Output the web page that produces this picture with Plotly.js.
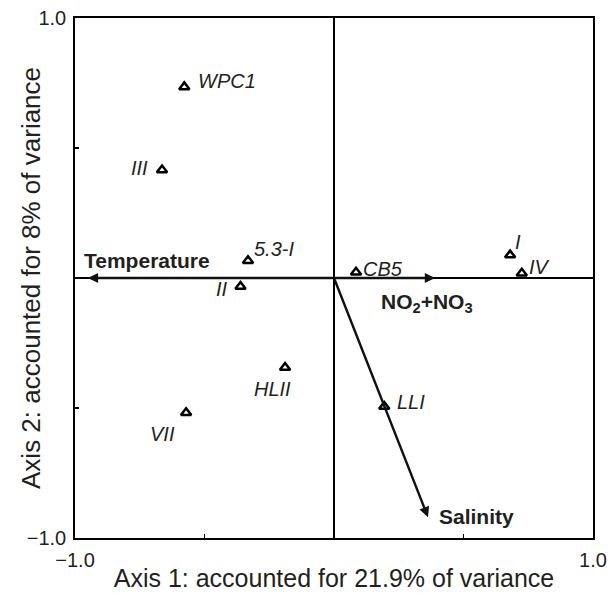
<!DOCTYPE html>
<html>
<head>
<meta charset="utf-8">
<script src="https://cdn.plot.ly/plotly-3.0.1.min.js"></script>
<style>html,body{margin:0;padding:0;background:#fff;}#chart{width:610px;height:593px;}</style>
</head>
<body>
<div id="chart"></div>
<script>
// Sample scores (axis 1, axis 2)
const sampleNames = ["WPC1", "III", "5.3-I", "II", "CB5", "I", "IV", "HLII", "VII", "LLI"];
const sampleX = [-0.578, -0.664, -0.332, -0.361, 0.085, 0.680, 0.725, -0.189, -0.571, 0.194];
const sampleY = [0.735, 0.415, 0.066, -0.033, 0.022, 0.088, 0.018, -0.344, -0.518, -0.494];

// Environmental vectors (arrow tips)
const varNames = ["Temperature", "NO<sub>2</sub>+NO<sub>3</sub>", "Salinity"];
const varX = [-0.95, 0.39, 0.363];
const varY = [0.0, 0.0, -0.92];

const xTickVals = [-1, -0.5, 0, 0.5, 1];
const xTickText = ["\u22121.0", "", "", "", "1.0"];
const yTickVals = [-1, -0.5, 0, 0.5, 1];
const yTickText = ["\u22121.0", "", "", "", "1.0"];

const xTitle = "Axis 1: accounted for 21.9% of variance";
const yTitle = "Axis 2: accounted for 8% of variance";

// label placement (style)
const sampleLabelStyle = [
  {xa: "left", xs: 12, ys: 6},
  {xa: "right", xs: -12, ys: 2},
  {xa: "left", xs: 4, ys: 12},
  {xa: "right", xs: -11, ys: -2},
  {xa: "left", xs: 5, ys: 3},
  {xa: "left", xs: 3, ys: 13},
  {xa: "left", xs: 5, ys: 6},
  {xa: "right", xs: 8, ys: -22},
  {xa: "right", xs: -9, ys: -21},
  {xa: "left", xs: 11, ys: 4}
];
const varLabelStyle = [
  {xa: "left", xs: -6, ys: 18},
  {xa: "center", xs: -8, ys: -25},
  {xa: "left", xs: 9, ys: 1}
];

const textColor = "#231f20";
const font = "Liberation Sans, Arial, Helvetica, sans-serif";

const annotations = [];
for (let i = 0; i < varNames.length; i++) {
  annotations.push({
    x: varX[i], y: varY[i], xref: "x", yref: "y",
    ax: 0, ay: 0, axref: "x", ayref: "y",
    text: "", showarrow: true, arrowhead: 2, arrowsize: 0.85, arrowwidth: 2.4,
    arrowcolor: "#111", standoff: 0, startstandoff: 0
  });
  annotations.push({
    x: varX[i], y: varY[i], xref: "x", yref: "y",
    text: "<b>" + varNames[i] + "</b>", showarrow: false,
    xanchor: varLabelStyle[i].xa, yanchor: "middle",
    xshift: varLabelStyle[i].xs, yshift: varLabelStyle[i].ys,
    font: {family: font, size: 21, color: textColor}
  });
}
for (let i = 0; i < sampleNames.length; i++) {
  annotations.push({
    x: sampleX[i], y: sampleY[i], xref: "x", yref: "y",
    text: "<i>" + sampleNames[i] + "</i>", showarrow: false,
    xanchor: sampleLabelStyle[i].xa, yanchor: "middle",
    xshift: sampleLabelStyle[i].xs, yshift: sampleLabelStyle[i].ys,
    font: {family: font, size: 20, color: textColor}
  });
}
// y-axis title as annotation (placed closer to the axis than Plotly's automatic title)
annotations.push({
  xref: "paper", yref: "paper", x: -0.085, y: 0.5, xanchor: "center", yanchor: "middle",
  text: yTitle, textangle: -90, showarrow: false,
  font: {family: font, size: 26, color: textColor}
});

const trace = {
  x: sampleX, y: sampleY, mode: "markers", type: "scatter",
  marker: {symbol: "triangle-up", size: 9, color: "#fff", line: {color: "#000", width: 2.5}},
  hoverinfo: "none", cliponaxis: false
};

const axisCommon = {
  range: [-1, 1], showgrid: false, zeroline: true, zerolinecolor: "#000", zerolinewidth: 1.5,
  showline: true, linecolor: "#000", linewidth: 1.8, mirror: true,
  ticks: "inside", ticklen: 4, tickwidth: 1.2, tickcolor: "#000",
  tickfont: {family: font, size: 20, color: textColor}, fixedrange: true
};

const layout = {
  width: 610, height: 593,
  margin: {l: 75, r: 17, t: 18, b: 55},
  paper_bgcolor: "#fff", plot_bgcolor: "#fff",
  showlegend: false,
  xaxis: Object.assign({}, axisCommon, {
    tickvals: xTickVals, ticktext: xTickText, ticklabelstandoff: 3,
    title: {text: xTitle, font: {family: font, size: 25, color: textColor}, standoff: 0}
  }),
  yaxis: Object.assign({}, axisCommon, {
    tickvals: yTickVals, ticktext: yTickText, ticklabelstandoff: 3
  }),
  annotations: annotations
};

Plotly.newPlot("chart", [trace], layout, {staticPlot: true, displayModeBar: false});
</script>
</body>
</html>
